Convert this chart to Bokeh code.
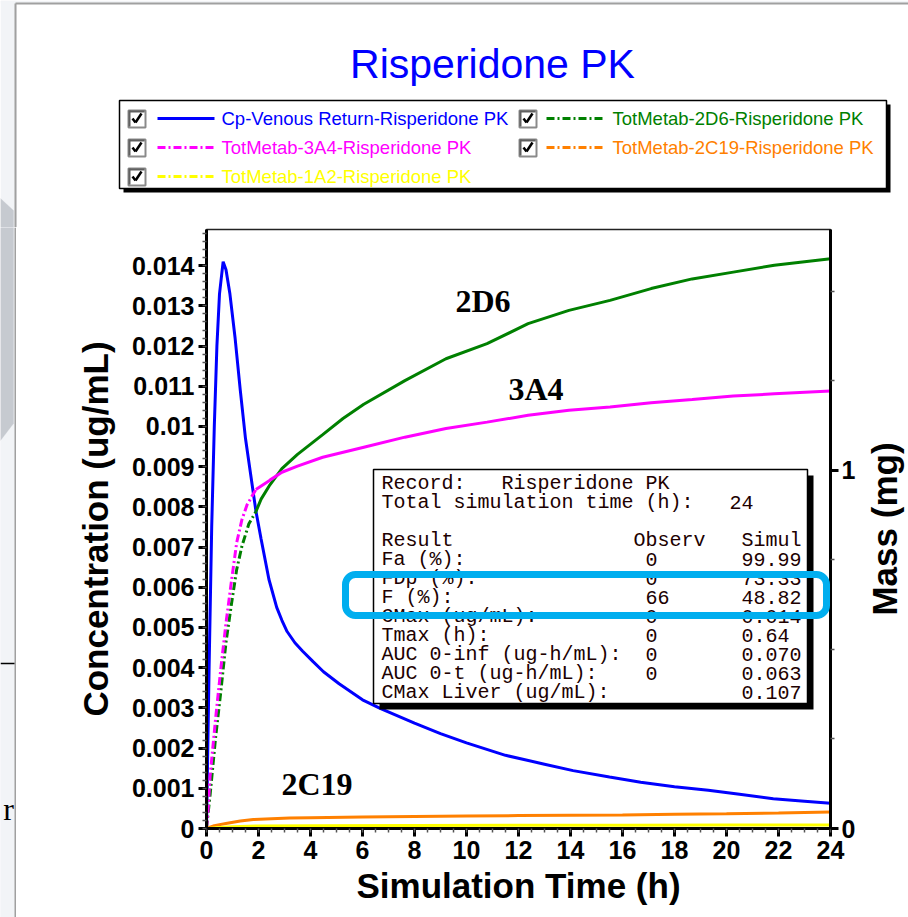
import math

from bokeh.plotting import figure
from bokeh.layouts import row, column
from bokeh.models import (Range1d, LinearAxis, FixedTicker, Label, BoxAnnotation,
                          PolyAnnotation, Arrow)
from bokeh.embed import file_html
from bokeh.resources import INLINE

# ---------------- simulated profiles (time in h) ----------------
# plasma concentration, ug/mL (left axis)
cp_time = [0, 0.1, 0.2, 0.3, 0.4, 0.5, 0.64, 0.75, 0.9, 1.1, 1.3, 1.5, 1.7, 1.9,
           2.1, 2.4, 2.7, 2.9, 3.1, 3.4, 3.7, 4.1, 4.5, 5.1, 6.0, 6.7, 8.0, 9.0,
           10.0, 11.5, 13.0, 14.1, 15.5, 16.7, 18.0, 19.3, 20.5, 21.8, 23.0, 24.0]
cp_conc = [0, 0.0040, 0.0075, 0.0100, 0.0120, 0.0133, 0.0141, 0.0139, 0.0133, 0.0122,
           0.0109, 0.0097, 0.0088, 0.0079, 0.0072, 0.0062, 0.0055, 0.00518, 0.0049,
           0.00462, 0.00441, 0.00415, 0.0039, 0.0036, 0.0032, 0.00298, 0.00262,
           0.00236, 0.00213, 0.00182, 0.0016, 0.00144, 0.00128, 0.00115, 0.00104,
           0.00095, 0.00085, 0.00074, 0.00068, 0.00063]

# total metabolite mass, mg (right axis)
d6_time = [0, 0.14, 0.35, 0.55, 0.75, 0.96, 1.16, 1.36, 1.63, 1.9, 2.1, 2.44, 2.9,
           3.5, 4.47, 5.25, 6.05, 7.63, 9.21, 10.79, 12.37, 13.94, 15.52, 17.1,
           18.68, 20.26, 21.84, 24.0]
d6_mass = [0, 0.095, 0.254, 0.382, 0.52, 0.627, 0.723, 0.788, 0.851, 0.885, 0.92,
           0.96, 1.005, 1.045, 1.10, 1.145, 1.185, 1.251, 1.312, 1.354, 1.41, 1.447,
           1.475, 1.508, 1.535, 1.554, 1.573, 1.591]

a4_time = [0, 0.07, 0.14, 0.35, 0.55, 0.75, 0.96, 1.16, 1.36, 1.56, 1.9, 2.44, 2.9,
           3.5, 4.47, 6.05, 7.63, 9.21, 10.79, 12.37, 13.94, 15.52, 17.1, 18.68,
           20.26, 21.84, 24.0]
a4_mass = [0, 0.062, 0.148, 0.307, 0.446, 0.574, 0.691, 0.798, 0.862, 0.904, 0.947,
           0.973, 0.995, 1.012, 1.037, 1.065, 1.093, 1.117, 1.135, 1.154, 1.168,
           1.177, 1.189, 1.198, 1.208, 1.214, 1.222]

c19_time = [0, 0.3, 0.8, 1.3, 1.8, 2.5, 3.2, 4, 6, 8, 10, 12, 14, 16, 18, 20, 22, 24]
c19_mass = [0, 0.008, 0.0145, 0.021, 0.025, 0.027, 0.029, 0.030, 0.032, 0.0335,
            0.035, 0.036, 0.037, 0.038, 0.0395, 0.041, 0.043, 0.046]

a2_time = [0, 0.5, 1, 2, 4, 8, 12, 16, 20, 24]
a2_mass = [0, 0.003, 0.005, 0.007, 0.008, 0.0085, 0.009, 0.0093, 0.0095, 0.0097]

# ---------------- axes ----------------
conc_ticks = [0, 0.001, 0.002, 0.003, 0.004, 0.005, 0.006, 0.007, 0.008, 0.009,
              0.01, 0.011, 0.012, 0.013, 0.014]
conc_tick_labels = ["0", "0.001", "0.002", "0.003", "0.004", "0.005", "0.006",
                    "0.007", "0.008", "0.009", "0.01", "0.011", "0.012", "0.013",
                    "0.014"]
time_ticks = [0, 2, 4, 6, 8, 10, 12, 14, 16, 18, 20, 22, 24]
mass_ticks = [0, 1]

# ---------------- legend and results table ----------------
series_names = ["Cp-Venous Return-Risperidone PK", "TotMetab-2D6-Risperidone PK",
                "TotMetab-3A4-Risperidone PK", "TotMetab-2C19-Risperidone PK",
                "TotMetab-1A2-Risperidone PK"]
series_colors = ["#0000FF", "#008000", "#FF00FF", "#FF8000", "#FFFF00"]

result_labels = ["Fa (%):", "FDp (%):", "F (%):", "CMax (ug/mL):", "Tmax (h):",
                 "AUC 0-inf (ug-h/mL):", "AUC 0-t (ug-h/mL):", "CMax Liver (ug/mL):"]
result_observed = ["0", "0", "66", "0", "0", "0", "0", ""]
result_simulated = ["99.99", "73.33", "48.82", "0.014", "0.64", "0.070", "0.063", "0.107"]

# ---------------- page geometry (pixels from the top-left corner) ----------------
W, H = 908, 917
STRIP = 16                               # backdrop strip on the left edge
TOP_H = 227                              # title + legend band
RIGHT_X = 860                            # start of the right-hand axis title column
FL, FR, FT, FB = 206, 830, 229, 828      # plot frame edges
T_MAX, C_MAX, M_MAX = 24, 0.0149, 1.673

SANS = "Liberation Sans"
SERIF = "Liberation Serif"
MONO = "Liberation Mono"
DASH = "8 3 2 3"
BACKDROP = "#f2f4f7"
HEX = [(0, 198), (13, 210), (13, 423), (0, 440)]


class Painter:
    """Draws annotations on a figure, taking positions in page pixels."""

    def __init__(self, fig, fx, fy):
        self.fig, self.fx, self.fy = fig, fx, fy

    def label(self, X, Y, text, size, color="black", font=SANS, style="normal",
              align="left", baseline="middle", angle=0.0):
        self.fig.add_layout(Label(x=self.fx(X), y=self.fy(Y), text=text,
                                  text_font_size=f"{size}px", text_color=color,
                                  text_font=font, text_font_style=style,
                                  text_align=align, text_baseline=baseline,
                                  angle=angle))

    def box(self, X0, Y0, X1, Y1, fill=None, line=None, lw=1.0, radius=0):
        self.fig.add_layout(BoxAnnotation(
            left=self.fx(X0), right=self.fx(X1), top=self.fy(Y0), bottom=self.fy(Y1),
            fill_color=fill if fill else "white", fill_alpha=1.0 if fill else 0.0,
            line_color=line if line else "white", line_alpha=1.0 if line else 0.0,
            line_width=lw, border_radius=radius))

    def seg(self, X0, Y0, X1, Y1, color="black", lw=1.0, dash="solid"):
        self.fig.add_layout(Arrow(x_start=self.fx(X0), y_start=self.fy(Y0),
                                  x_end=self.fx(X1), y_end=self.fy(Y1), end=None,
                                  line_color=color, line_width=lw, line_dash=dash))

    def poly(self, pts, fill):
        self.fig.add_layout(PolyAnnotation(
            xs=[self.fx(a) for a, _ in pts], ys=[self.fy(b) for _, b in pts],
            fill_color=fill, fill_alpha=1.0, line_color=fill, line_width=1))


def blank_canvas(x0, y0, x1, y1, bg):
    f = figure(width=x1 - x0, height=y1 - y0, output_backend="svg",
               toolbar_location=None, x_range=Range1d(x0, x1), y_range=Range1d(y1, y0),
               x_axis_location=None, y_axis_location=None, title=None,
               min_border=0, background_fill_color=bg, border_fill_color=bg,
               outline_line_color=None)
    f.grid.visible = False
    return f


def same(v):
    return v


def backdrop_strip(pt, y0, y1):
    pt.box(0, y0, STRIP, y1, fill=BACKDROP)
    pt.poly(HEX, "#c6cad0")
    pt.seg(15, max(y0, 3), 15, y1, color="#a0a0a0", lw=2)


# ---------------- title and legend band ----------------
top = blank_canvas(0, 0, W, TOP_H, "white")
tp = Painter(top, same, same)
tp.box(0, 0, W, 3, fill=BACKDROP)
backdrop_strip(tp, 0, TOP_H)
tp.seg(STRIP - 1, 3, W, 3, color="#a0a0a0", lw=2)
tp.label(492, 63, "Risperidone PK", 41, color="#0000FF", align="center")

tp.box(123, 104, 890, 192, fill="black")
tp.box(119, 100, 886, 188, fill="white", line="black", lw=1.5)
rows_y = [118, 147, 176]
cb_x = [128, 519]
line_x = [(157, 214), (546, 604)]
text_x = [221, 612]
for i, (name, col) in enumerate(zip(series_names, series_colors)):
    r, c = divmod(i, 2)
    y = rows_y[r]
    x0 = cb_x[c]
    tp.box(x0, y - 8, x0 + 17, y + 9, fill="white", line="#8a8a8a", lw=2)
    tp.seg(x0 + 1, y - 8, x0 + 1, y + 8, color="#606060", lw=2)
    tp.seg(x0 + 1, y - 7, x0 + 16, y - 7, color="#606060", lw=2)
    tp.seg(x0 + 4, y, x0 + 7, y + 4, lw=2.5)
    tp.seg(x0 + 7, y + 4, x0 + 13, y - 5, lw=2.5)
    a, b = line_x[c]
    tp.seg(a, y, b, y, color=col, lw=3, dash="solid" if i == 0 else DASH)
    tp.label(text_x[c], y, name, 18.5, color=col)

# ---------------- left strip below the band ----------------
strip = blank_canvas(0, TOP_H, STRIP, H, BACKDROP)
sp = Painter(strip, same, same)
backdrop_strip(sp, TOP_H, H)
sp.seg(0, 663, 14, 663, lw=1.5)
sp.label(13.5, 808, "r", 32, font=SERIF, align="right", baseline="alphabetic")

# ---------------- right-hand axis title ----------------
rfig = blank_canvas(RIGHT_X, TOP_H, W, H, "white")
rp = Painter(rfig, same, same)
rp.label(884, (FT + FB) / 2, "Mass (mg)", 35, style="bold", align="center",
         angle=math.pi / 2)

# ---------------- main plot ----------------
p = figure(width=RIGHT_X - STRIP, height=H - TOP_H, output_backend="svg",
           toolbar_location=None, title=None,
           x_range=Range1d(0, T_MAX), y_range=Range1d(0, C_MAX),
           min_border_left=FL - STRIP, min_border_right=RIGHT_X - FR,
           min_border_top=FT - TOP_H, min_border_bottom=H - FB)
p.extra_y_ranges = {"mass": Range1d(0, M_MAX)}
p.background_fill_color = "white"
p.border_fill_color = "white"
p.outline_line_color = "#222222"
p.outline_line_width = 1.5
p.xgrid.visible = False
p.ygrid.visible = False


def style_axis(ax, size="25px"):
    ax.axis_line_width = 3
    ax.axis_line_color = "black"
    ax.major_tick_line_width = 3
    ax.major_tick_line_color = "black"
    ax.major_tick_out = 8
    ax.major_tick_in = 0
    ax.minor_tick_out = 4
    ax.minor_tick_in = 0
    ax.minor_tick_line_color = "#555555"
    ax.minor_tick_line_width = 1.5
    ax.major_label_text_font = SANS
    ax.major_label_text_font_style = "bold"
    ax.major_label_text_font_size = size
    ax.major_label_text_color = "black"
    ax.axis_label_text_font = SANS
    ax.axis_label_text_font_style = "bold"
    ax.axis_label_text_font_size = "35px"
    ax.axis_label_text_color = "black"


yax = p.yaxis[0]
style_axis(yax)
yax.ticker = FixedTicker(ticks=conc_ticks,
                         minor_ticks=[i * 0.0002 for i in range(0, 75)])
yax.major_label_overrides = dict(zip(conc_ticks, conc_tick_labels))
yax.major_label_standoff = 4
yax.axis_label = "Concentration (ug/mL)"
yax.axis_label_standoff = 14

xax = p.xaxis[0]
style_axis(xax)
xax.ticker = FixedTicker(ticks=time_ticks, minor_ticks=[i * 0.5 for i in range(0, 49)])
xax.major_label_standoff = 4
xax.axis_label = "Simulation Time (h)"
xax.axis_label_standoff = 4

rax = LinearAxis(y_range_name="mass")
style_axis(rax)
rax.ticker = FixedTicker(ticks=mass_ticks, minor_ticks=[0.25, 0.5, 0.75, 1.25, 1.5])
rax.major_label_standoff = 3
p.add_layout(rax, "right")

# curves
p.line(cp_time, cp_conc, line_color=series_colors[0], line_width=3)
for t, m, col in [(d6_time, d6_mass, series_colors[1]),
                  (a4_time, a4_mass, series_colors[2])]:
    k = max(i for i, v in enumerate(t) if v <= 2.0)
    p.line(t[:k + 1], m[:k + 1], y_range_name="mass", line_color=col,
           line_width=3, line_dash=DASH)
    p.line(t[k:], m[k:], y_range_name="mass", line_color=col, line_width=3)
p.line(c19_time, c19_mass, y_range_name="mass", line_color=series_colors[3], line_width=3)
p.line(a2_time, a2_mass, y_range_name="mass", line_color=series_colors[4], line_width=3)

mp = Painter(p, lambda X: (X - FL) / (FR - FL) * T_MAX,
             lambda Y: (FB - Y) / (FB - FT) * C_MAX)

# enzyme labels
mp.label(455, 300, "2D6", 32, font=SERIF, style="bold")
mp.label(508, 388, "3A4", 32, font=SERIF, style="bold")
mp.label(281, 783, "2C19", 32, font=SERIF, style="bold")

# results table
mp.box(379, 475, 813, 709, fill="black")
mp.box(373, 469, 807, 703, fill="white", line="black", lw=1.5)
TXT = "#200000"
CW = 12.0
C0 = 381


def col(n):
    return C0 + n * CW


mp.label(col(0), 483, "Record:", 20, TXT, MONO)
mp.label(col(10), 483, "Risperidone PK", 20, TXT, MONO)
mp.label(col(0), 502, "Total simulation time (h):", 20, TXT, MONO)
mp.label(col(29), 502, "24", 20, TXT, MONO)
mp.label(col(0), 540, "Result", 20, TXT, MONO)
mp.label(col(21), 540, "Observ", 20, TXT, MONO)
mp.label(col(30), 540, "Simul", 20, TXT, MONO)
for k, (name, obs, sim) in enumerate(zip(result_labels, result_observed, result_simulated)):
    y = 559 + k * 19
    mp.label(col(0), y, name, 20, TXT, MONO)
    if obs:
        mp.label(col(22), y, obs, 20, TXT, MONO)
    mp.label(col(30), y, sim, 20, TXT, MONO)

# highlight around the bioavailability row
mp.box(345, 574, 826, 615, line="#00AEEF", lw=7, radius=10)

page = column(top, row(strip, column(p), column(rfig), spacing=0), spacing=0)
open("out.html", "w").write(file_html(page, INLINE))
